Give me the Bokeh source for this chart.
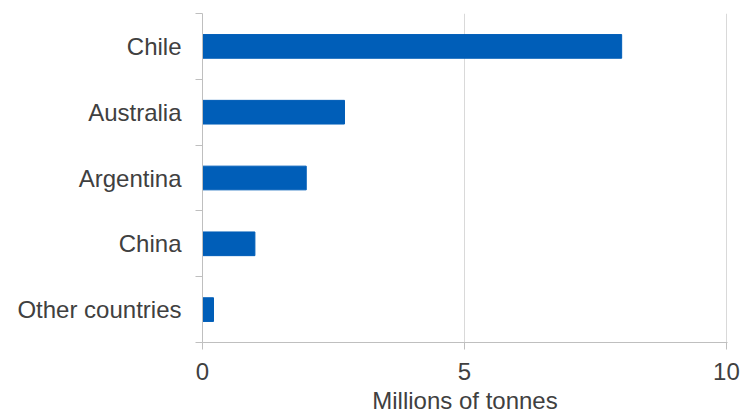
from bokeh.plotting import figure
from bokeh.models import FixedTicker, Range1d
from bokeh.embed import file_html
from bokeh.resources import INLINE

countries = ["Chile", "Australia", "Argentina", "China", "Other countries"]
values = [8.0, 2.71, 1.98, 1.0, 0.21]
x_ticks = [0, 5, 10]
x_label = "Millions of tonnes"

n = len(countries)
ypos = [n - 0.5 - i for i in range(n)]

p = figure(width=740, height=416, output_backend="svg", toolbar_location=None,
           x_range=Range1d(0, 10.02), y_range=Range1d(0, n),
           min_border_left=202, min_border_right=13, min_border_top=13, min_border_bottom=74)
p.outline_line_color = None
p.background_fill_color = "white"

p.hbar(y=ypos, right=values, left=0, height=0.36, color="#005EB8")

font = "Liberation Sans"
txt = "#404040"
fs = "24px"

# x axis
xa = p.xaxis[0]
xa.ticker = FixedTicker(ticks=x_ticks, minor_ticks=[])
xa.axis_line_color = "#BFBFBF"
xa.major_tick_line_color = "#BFBFBF"
xa.major_tick_out = 7
xa.major_tick_in = 0
xa.minor_tick_line_color = None
xa.major_label_text_font = font
xa.major_label_text_font_size = fs
xa.major_label_text_color = txt
xa.major_label_standoff = 13
xa.axis_label = x_label
xa.axis_label_text_font = font
xa.axis_label_text_font_size = fs
xa.axis_label_text_font_style = "normal"
xa.axis_label_text_color = txt
xa.axis_label_text_line_height = 0.8
xa.axis_label_standoff = 4

# y axis: labels at band centers, tick marks at band boundaries
ya = p.yaxis[0]
ya.ticker = FixedTicker(ticks=ypos, minor_ticks=list(range(n + 1)))
ya.major_label_overrides = {y: c for y, c in zip(ypos, countries)}
ya.axis_line_color = "#BFBFBF"
ya.major_tick_line_color = None
ya.major_tick_out = 0
ya.major_tick_in = 0
ya.minor_tick_line_color = "#BFBFBF"
ya.minor_tick_out = 7
ya.minor_tick_in = 0
ya.major_label_text_font = font
ya.major_label_text_font_size = fs
ya.major_label_text_color = txt
ya.major_label_standoff = 14

p.xgrid.grid_line_color = "#D9D9D9"
p.xgrid.ticker = FixedTicker(ticks=x_ticks[1:])
p.ygrid.grid_line_color = None

open("out.html", "w").write(file_html(p, INLINE))
